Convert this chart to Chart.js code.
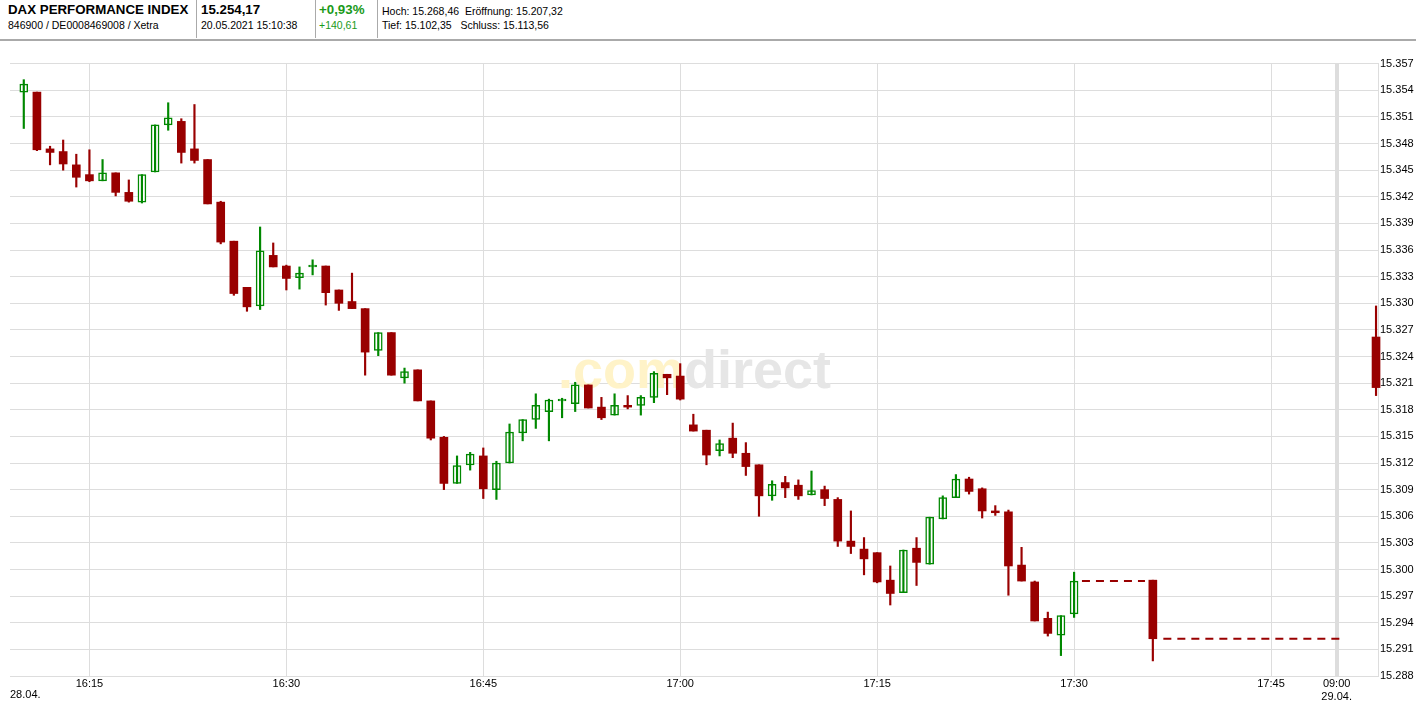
<!DOCTYPE html>
<html><head><meta charset="utf-8">
<script src="https://cdn.jsdelivr.net/npm/chart.js@4"></script>
<style>
body{margin:0;width:1416px;height:705px;overflow:hidden;background:#fff;font-family:"Liberation Sans",Arial,sans-serif;}
#hdr{position:absolute;left:0;top:0;width:1416px;height:39px;border-bottom:2px solid #aaa;}
.c{position:absolute;top:0;height:38px;border-right:1px solid #aaa;}
.b{font-weight:bold;font-size:13.3px;position:absolute;top:2px;white-space:nowrap;}
.s{font-size:10.5px;position:absolute;top:19px;white-space:nowrap;}
#wrap{position:absolute;left:0;top:40px;width:1416px;height:665px;}
</style></head><body>
<div id="hdr">
 <div class="c" style="left:0;width:196px"><div class="b" style="left:8px">DAX PERFORMANCE INDEX</div><div class="s" style="left:8px">846900 / DE0008469008 / Xetra</div></div>
 <div class="c" style="left:197px;width:118px"><div class="b" style="left:4px">15.254,17</div><div class="s" style="left:4px">20.05.2021 15:10:38</div></div>
 <div class="c" style="left:316px;width:61px"><div class="b" style="left:3px;color:#1a9a1a">+0,93%</div><div class="s" style="left:3px;color:#1a9a1a">+140,61</div></div>
 <div style="position:absolute;left:382px;top:0"><div class="s" style="top:5px">Hoch: 15.268,46&nbsp;&nbsp;Eröffnung: 15.207,32</div><div class="s" style="top:19px">Tief: 15.102,35&nbsp;&nbsp;&nbsp;Schluss: 15.113,56</div></div>
</div>
<div id="wrap"><canvas id="c" width="1416" height="665"></canvas></div>
<script>
// minute index from 16:10 (28.04.), 100 = 09:00 (29.04.)
const minutes=[0,1,2,3,4,5,6,7,8,9,10,11,12,13,14,15,16,17,18,19,20,21,22,23,24,25,26,27,28,29,30,31,32,33,34,35,36,37,38,39,40,41,42,43,44,45,46,47,48,49,50,51,52,53,54,55,56,57,58,59,60,61,62,63,64,65,66,67,68,69,70,71,72,73,74,75,76,77,78,79,80,86,103];
const opens=[15353.8,15353.8,15347.4,15347.1,15345.6,15344.5,15343.8,15344.7,15342.5,15341.4,15344.8,15350.1,15350.5,15347.4,15346.2,15341.4,15337.0,15331.8,15329.7,15335.4,15334.2,15332.9,15334.1,15334.2,15331.5,15330.2,15329.4,15324.7,15326.7,15321.6,15322.5,15319.0,15314.9,15309.7,15311.8,15312.8,15309.0,15312.0,15315.4,15316.9,15317.8,15319.0,15318.7,15320.8,15318.3,15317.4,15318.5,15318.5,15319.4,15322.0,15321.8,15316.3,15315.7,15313.4,15314.8,15313.1,15311.8,15308.3,15309.8,15309.5,15308.4,15309.0,15307.9,15303.2,15302.3,15301.9,15298.8,15297.4,15302.4,15300.6,15305.7,15308.1,15310.2,15309.1,15306.6,15306.5,15300.5,15298.6,15294.5,15292.6,15295.0,15298.8,15326.2];
const highs=[15355.2,15353.8,15347.7,15348.4,15346.8,15347.3,15346.2,15344.7,15343.9,15344.5,15350.1,15352.6,15350.8,15352.4,15346.2,15341.5,15337.0,15331.8,15338.6,15336.8,15334.3,15334.1,15334.9,15334.2,15331.5,15333.4,15329.4,15326.7,15326.7,15322.7,15322.5,15319.0,15315.0,15312.8,15313.2,15313.7,15312.2,15316.4,15316.9,15319.8,15319.2,15319.3,15321.1,15320.8,15319.4,15319.8,15319.6,15319.6,15322.3,15322.0,15323.2,15317.5,15315.7,15314.6,15316.5,15314.3,15311.8,15310.0,15310.5,15310.1,15311.1,15309.4,15308.1,15306.6,15303.6,15301.9,15300.4,15302.2,15303.6,15305.9,15308.3,15310.7,15310.4,15309.2,15307.2,15306.7,15302.5,15298.7,15295.2,15294.8,15299.7,15298.8,15329.7];
const lows=[15349.7,15347.2,15345.6,15345.0,15343.1,15343.7,15343.8,15342.1,15341.4,15341.3,15344.8,15349.5,15345.8,15345.8,15341.2,15336.7,15330.9,15329.1,15329.3,15334.1,15331.5,15331.6,15333.2,15329.8,15329.2,15329.4,15321.9,15324.1,15321.9,15321.0,15319.0,15314.6,15309.0,15309.7,15311.2,15308.0,15307.9,15312.0,15314.5,15315.9,15314.5,15317.1,15317.8,15318.2,15316.9,15317.4,15318.1,15317.4,15318.8,15319.7,15319.1,15315.6,15311.8,15312.8,15312.6,15310.6,15306.0,15307.8,15308.1,15307.9,15308.4,15307.2,15302.6,15301.8,15299.4,15298.5,15296.0,15297.4,15298.2,15300.6,15305.7,15308.1,15308.5,15305.8,15306.1,15297.1,15298.7,15294.2,15292.5,15290.3,15294.6,15289.7,15319.6];
const closes=[15354.7,15347.3,15347.0,15345.7,15344.2,15343.8,15344.7,15342.5,15341.5,15344.5,15350.1,15350.9,15347.0,15346.1,15341.2,15336.9,15331.1,15329.6,15335.9,15334.1,15332.8,15333.4,15334.3,15331.2,15330.0,15329.4,15324.5,15326.7,15321.9,15322.3,15319.0,15314.8,15309.7,15311.7,15313.0,15309.1,15312.0,15315.5,15316.9,15318.5,15319.1,15319.2,15320.8,15318.2,15317.1,15318.5,15318.3,15319.4,15322.1,15321.6,15319.2,15315.6,15312.9,15314.2,15313.1,15311.6,15308.3,15309.6,15309.2,15308.3,15308.9,15308.0,15303.2,15302.6,15301.2,15298.6,15297.3,15302.2,15300.8,15305.9,15308.1,15310.2,15308.8,15306.6,15306.4,15300.4,15298.7,15294.2,15292.8,15294.8,15298.7,15292.2,15320.5];
// flat segments without trades (previous close)
const gap1=[{x:80.6,y:15298.7},{x:85.4,y:15298.7}];
const gap2=[{x:86.8,y:15292.2},{x:100.5,y:15292.2}];
const xTickVals=[5,20,35,50,65,80,95,100];
const xTickLabels=['16:15','16:30','16:45','17:00','17:15','17:30','17:45',['09:00','29.04.']];
const yTicks=[];for(let v=15288;v<=15357;v+=3)yTicks.push(v);

const RED='#990000',GREEN='#008800';
const up=opens.map((o,i)=>closes[i]>=o);
const bodies=minutes.map((m,i)=>({x:m,y:[opens[i],Math.abs(closes[i]-opens[i])<0.15?opens[i]+(up[i]?0.15:-0.15):closes[i]]}));
const wicks=minutes.map((m,i)=>({x:m,y:[lows[i],highs[i]]}));

const water={id:'water',beforeDatasetsDraw(ch){const c=ch.ctx;c.save();c.font='bold 54px "Liberation Sans",Arial';c.textBaseline='alphabetic';
 const x=558,y=388-40;c.fillStyle='#fff3c8';c.fillText('.com',x,y);const w=c.measureText('.com').width;c.fillStyle='#e6e6e6';c.fillText('direct',x+w,y);c.restore();},
 afterDraw(ch){const c=ch.ctx;c.save();c.font='11px "Liberation Sans",Arial';c.fillStyle='#000';c.fillText('28.04.',10,658);c.restore();}};

new Chart(document.getElementById('c'),{
 type:'bar',
 data:{datasets:[
  {type:'line',data:gap1,borderColor:RED,borderWidth:2,borderDash:[8,6],pointRadius:0,clip:false},
  {type:'line',data:gap2,borderColor:RED,borderWidth:2,borderDash:[8,6],pointRadius:0,clip:false},
  {data:wicks,barThickness:1.5,grouped:false,backgroundColor:up.map(u=>u?GREEN:RED),borderWidth:0,clip:false},
  {data:bodies,barThickness:8,grouped:false,backgroundColor:up.map(u=>u?'#fff':RED),borderColor:up.map(u=>u?GREEN:RED),borderWidth:up.map(u=>u?1.5:0),borderSkipped:false,clip:false}
 ]},
 options:{responsive:false,animation:false,events:[],
  layout:{padding:{left:10,top:23.7,right:0,bottom:0}},
  plugins:{legend:{display:false},tooltip:{enabled:false}},
  scales:{
   x:{type:'linear',min:-1.05,max:103.15,offset:false,
    afterBuildTicks(s){s.ticks=xTickVals.map(v=>({value:v}));},
    afterFit(s){s.height=29;},
    ticks:{autoSkip:false,maxRotation:0,padding:1,color:'#000',font:{size:11,family:'"Liberation Sans",Arial'},callback:(v,i)=>xTickLabels[i]},
    grid:{offset:false,color:'#dddddd',lineWidth:c=>c.tick&&c.tick.value===100?4:1,drawTicks:false},border:{color:'#dddddd'}},
   y:{position:'right',min:15288,max:15357,
    afterBuildTicks(s){s.ticks=yTicks.map(v=>({value:v}));},
    afterFit(s){s.width=38;},
    ticks:{padding:2,color:'#000',font:{size:11,family:'"Liberation Sans",Arial'},callback:v=>String(v).replace(/^(\d\d)(\d{3})$/,'$1.$2')},
    grid:{color:'#dddddd',drawTicks:false},border:{color:'#dddddd'}}
  }},
 plugins:[water]
});
</script></body></html>
